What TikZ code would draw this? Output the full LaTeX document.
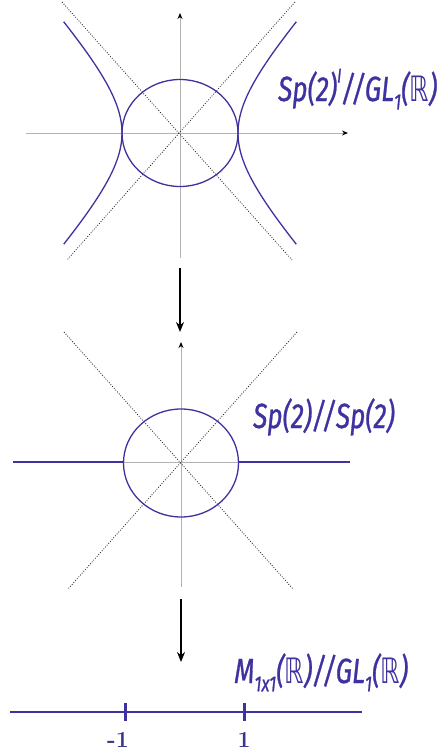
\documentclass[tikz,border=0pt]{standalone}
\usepackage{fontspec}
\usetikzlibrary{arrows.meta}
\newfontfamily\hand{Fira Sans}[FakeStretch=0.75,FakeBold=0.8]
\newfontfamily\handR{DejaVu Sans}[FakeStretch=0.7]
\definecolor{curveblue}{RGB}{62,50,160}
\definecolor{numblue}{RGB}{55,55,140}
\newcommand{\dsR}{{\handR\upshape ℝ}}
\newcommand{\hsub}[1]{\raisebox{-0.45ex}{\fontsize{22}{22}\selectfont #1}}
\newcommand{\hsup}[1]{\raisebox{1.0ex}{\fontsize{20}{20}\selectfont #1}}
\tikzset{
  curve/.style={draw=curveblue, line width=1.3pt},
  axis/.style={draw=black!30, line width=0.9pt},
  axisarrow/.style={axis, -{Stealth[length=6pt,width=5pt,black]}},
  diag/.style={draw=black!85, dash pattern=on 0.9pt off 1.6pt, line width=0.8pt},
  maparrow/.style={draw=black, line width=2.2pt, -{Stealth[length=10pt,width=8pt]}},
  label/.style={text=curveblue, font=\hand\itshape\fontsize{35}{35}\selectfont, inner sep=0pt, anchor=base west},
  numlabel/.style={text=numblue, font=\bfseries\fontsize{23}{23}\selectfont, inner sep=0pt},
  tick/.style={draw=curveblue, line width=3pt}
}
\begin{document}
\begin{tikzpicture}[x=1pt,y=-1pt]
\useasboundingbox (0,0) rectangle (437,756);
% ---------- top panel ----------
\coordinate (c1) at (180,133);
\coordinate (h1l) at (26,133);
\coordinate (h1r) at (348,133);
\coordinate (v1b) at (180,258);
\coordinate (v1t) at (180,13);
\coordinate (d1a) at (62,2);
\coordinate (d1b) at (292,260);
\coordinate (d1c) at (295,2);
\coordinate (d1d) at (67,260);
\draw[axisarrow] (h1l) -- (h1r);
\draw[axisarrow] (v1b) -- (v1t);
\draw[diag] (d1a) -- (d1b);
\draw[diag] (d1c) -- (d1d);
\draw[curve] (c1) ellipse [x radius=58, y radius=53.5];
\draw[curve] plot[domain=-1.32:1.32, samples=60, smooth] ({180+58*cosh(\x)},{133+64*sinh(\x)});
\draw[curve] plot[domain=-1.32:1.32, samples=60, smooth] ({180-58*cosh(\x)},{133+64*sinh(\x)});
\node[label] (L1) at (278,101) {Sp(2)\hsup{I}//GL\hsub{1}(\dsR)};
% ---------- arrow 1 ----------
\coordinate (a1s) at (180,268);
\coordinate (a1e) at (180,332);
\draw[maparrow] (a1s) -- (a1e);
% ---------- middle panel ----------
\coordinate (c2) at (181,463);
\coordinate (v2b) at (181,587);
\coordinate (v2t) at (181,342);
\coordinate (d2a) at (64,332);
\coordinate (d2b) at (293,589);
\coordinate (d2c) at (297,332);
\coordinate (d2d) at (68,589);
\coordinate (l2a) at (13,462);
\coordinate (l2b) at (123,462);
\coordinate (l2c) at (238,462);
\coordinate (l2d) at (350,462);
\draw[axis] (l2b) -- (l2c);
\draw[axisarrow] (v2b) -- (v2t);
\draw[diag] (d2a) -- (d2b);
\draw[diag] (d2c) -- (d2d);
\draw[curve] (c2) ellipse [x radius=57.5, y radius=54];
\draw[curve] (l2a) -- (l2b);
\draw[curve] (l2c) -- (l2d);
\node[label] (L2) at (253,428) {Sp(2)//Sp(2)};
% ---------- arrow 2 ----------
\coordinate (a2s) at (181,599);
\coordinate (a2e) at (181,662);
\draw[maparrow] (a2s) -- (a2e);
% ---------- bottom panel ----------
\coordinate (b1) at (10,712);
\coordinate (b2) at (362,712);
\draw[curve] (b1) -- (b2);
\coordinate (t1a) at (125,703);
\coordinate (t1b) at (125,721);
\coordinate (t2a) at (244,703);
\coordinate (t2b) at (244,721);
\draw[tick] (t1a) -- (t1b);
\draw[tick] (t2a) -- (t2b);
\node[numlabel, anchor=base] (n1) at (118,747) {-1};
\node[numlabel, anchor=base] (n2) at (244,747) {1};
\node[label] (L3) at (234,683) {M\hsub{1x1}(\dsR)//GL\hsub{1}(\dsR)};
\end{tikzpicture}
\end{document}
